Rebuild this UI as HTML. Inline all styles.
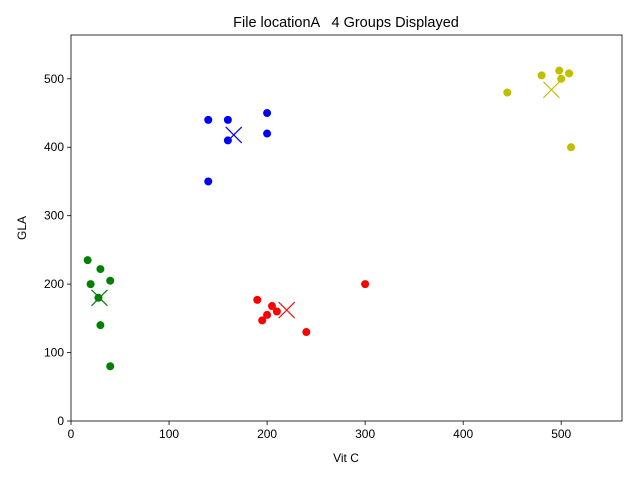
<!DOCTYPE html>
<html><head><meta charset="utf-8"><style>
body{margin:0;background:#fff}
svg{display:block;font-family:"Liberation Sans","DejaVu Sans",sans-serif}
</style></head><body>
<svg id="chart" width="640" height="480" xmlns="http://www.w3.org/2000/svg"></svg>
<script>
const groupNames = ["blue","yellow","green","red"];
const groupColors = ["#0000ff","#bfbf00","#008000","#ff0000"];
const xValues = [
  [140,160,200,200,160,140],
  [480,498,508,500,445,510],
  [17,30,20,40,28,30,40],
  [190,205,210,200,195,240,300]
];
const yValues = [
  [440,440,450,420,410,350],
  [505,512,508,500,480,400],
  [235,222,200,205,180,140,80],
  [177,168,160,155,147,130,200]
];
const centroidX = [166,490,29,220];
const centroidY = [418,484,180,162];
const xTicks = [0,100,200,300,400,500];
const yTicks = [0,100,200,300,400,500];

const L=71,R=622,T=35,B=421, XMAX=562, YMAX=564;
const sx=v=>L+v*(R-L)/XMAX, sy=v=>B-v*(B-T)/YMAX;
const svg=document.getElementById('chart');
const NS="http://www.w3.org/2000/svg";
function mk(tag,attrs,parent){const e=document.createElementNS(NS,tag);for(const k in attrs)e.setAttribute(k,attrs[k]);(parent||svg).appendChild(e);return e;}

const title=mk('text',{x:346,y:27,'text-anchor':'middle','font-size':14.5,style:'white-space:pre'});
title.textContent="File locationA   4 Groups Displayed";



xTicks.forEach(t=>{
  const g=mk('g',{});
  
  
  mk('line',{x1:sx(t),x2:sx(t),y1:B,y2:B+4,stroke:'#000','stroke-width':0.8},g);
  const tx=mk('text',{x:sx(t),y:B+17,'text-anchor':'middle','font-size':12},g);tx.textContent=t;
});
yTicks.forEach(t=>{
  const g=mk('g',{});
  
  
  mk('line',{x1:L-4,x2:L,y1:sy(t),y2:sy(t),stroke:'#000','stroke-width':0.8},g);
  const tx=mk('text',{x:L-7,y:sy(t)+4,'text-anchor':'end','font-size':12},g);tx.textContent=t;
});
const xl=mk('text',{x:346,y:462,'text-anchor':'middle','font-size':12});xl.textContent="Vit C";


const yl=mk('text',{x:0,y:0,'text-anchor':'middle','font-size':12,transform:`translate(26,${(T+B)/2}) rotate(-90)`});yl.textContent="GLA";



groupNames.forEach((n,i)=>{
  const g=mk('g',{});
  
  
  xValues[i].forEach((x,j)=>{
    const c=mk('circle',{cx:sx(x),cy:sy(yValues[i][j]),r:4,fill:groupColors[i]},g);
    
    
  });
  const cx=sx(centroidX[i]),cy=sy(centroidY[i]),d=8;
  const m=mk('path',{d:`M${cx-d},${cy-d}L${cx+d},${cy+d}M${cx-d},${cy+d}L${cx+d},${cy-d}`,stroke:groupColors[i],'stroke-width':1.2,fill:'none'},g);
  
  
});
const frame=mk('rect',{x:L,y:T,width:R-L,height:B-T,fill:'none',stroke:'#000','stroke-width':0.8});


</script>
</body></html>
